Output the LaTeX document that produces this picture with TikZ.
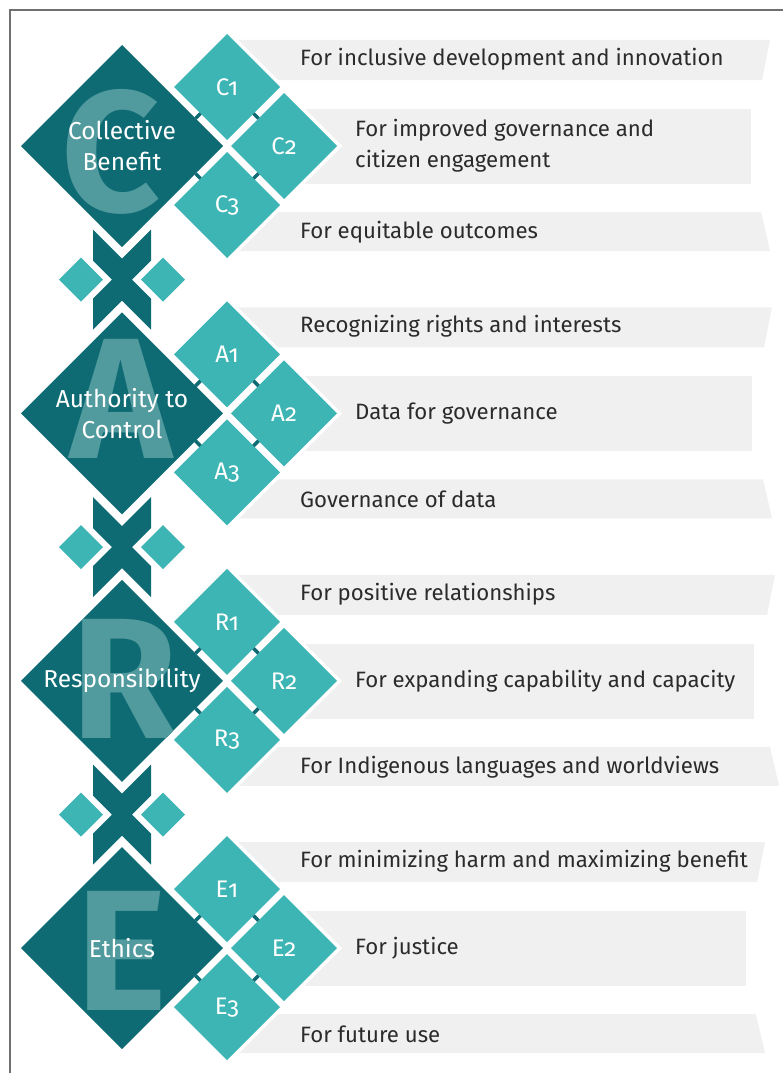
\documentclass[tikz,border=0pt]{standalone}
\usepackage{fontspec}
\setmainfont{Fira Sans}
\usetikzlibrary{shapes.geometric,calc}
\definecolor{darkteal}{HTML}{0E6B73}
\definecolor{lightteal}{HTML}{3DB5B4}
\definecolor{letterteal}{HTML}{519A9E}
\definecolor{barfill}{HTML}{F0F0F0}
\definecolor{txt}{HTML}{2B2B2B}
\definecolor{framegray}{HTML}{707070}

\tikzset{
  bigdia/.style={diamond, aspect=1, minimum width=202pt, minimum height=202pt, inner sep=0pt, outer sep=0pt, fill=darkteal},
  smalldia/.style={diamond, aspect=1, minimum width=106pt, minimum height=106pt, inner sep=0pt, outer sep=0pt, fill=lightteal, text=white, font=\fontsize{24}{24}\selectfont\addfontfeatures{Numbers=OldStyle}},
  halo/.style={diamond, aspect=1, minimum width=116pt, minimum height=116pt, inner sep=0pt, outer sep=0pt, fill=white},
  sidedia/.style={diamond, aspect=1, minimum width=44pt, minimum height=44pt, inner sep=0pt, outer sep=0pt, fill=lightteal},
  bigletter/.style={inner sep=0pt, outer sep=0pt, text=letterteal, font=\fontsize{172}{172}\selectfont\bfseries},
  titletext/.style={inner sep=0pt, text=white, align=center, font=\fontsize{24.5}{31}\selectfont},
  bartext/.style={inner sep=0pt, text=txt, align=left, font=\fontsize{22.2}{31}\selectfont},
  stitch/.style={draw=darkteal, line width=3.5pt},
}

% #1 letter/prefix, #2 centre y, #3 letter x, #4 letter baseline (rel), #5 title, #6-#8 texts
\newcommand\caresec[8]{%
  \pgfmathsetmacro\cy{#2}%
  \fill[barfill] (236,\cy-106) -- (\rA,\cy-106) -- (\rA-8,\cy-66) -- (236,\cy-66) -- cycle;
  \fill[barfill] (236,\cy-37) rectangle (\rB,\cy+38);
  \fill[barfill] (236,\cy+66) -- (\rC,\cy+66) -- (\rC+9,\cy+105) -- (236,\cy+105) -- cycle;
  \node[halo] (#1h1) at (227,\cy-59) {};
  \node[halo] (#1h2) at (284,\cy) {};
  \node[halo] (#1h3) at (227,\cy+59) {};
  \node[bigdia] (#1d) at (122,\cy) {};
  \begin{scope}
    \clip (#1d.north) -- (#1d.east) -- (#1d.south) -- (#1d.west) -- cycle;
    \node[bigletter, anchor=base] (#1l) at (#3,\cy+#4) {#1};
  \end{scope}
  \node[titletext] (#1n) at (#1d.center) {#5};
  \node[smalldia] (#1s1) at (227,\cy-59) {#1{}1};
  \node[smalldia] (#1s2) at (284,\cy) {#1{}2};
  \node[smalldia] (#1s3) at (227,\cy+59) {#1{}3};
  \draw[stitch] (#1s1.south west) -- ++(-5,5);
  \draw[stitch] (#1s1.south east) -- ++(5,5);
  \draw[stitch] (#1s3.north west) -- ++(-5,-5);
  \draw[stitch] (#1s3.north east) -- ++(5,-5);
  \node[bartext, anchor=west] (#1t1) at (300,\cy-87) {#6};
  \node[bartext, anchor=west] (#1t2) at (355,\cy) {#7};
  \node[bartext, anchor=west] (#1t3) at (300,\cy+86) {#8};
}

% #1 name prefix, #2 centre y
\newcommand\carejoin[2]{%
  \begin{scope}[shift={(122,#2)}]
    \fill[darkteal] (-29,-50) -- (0,-21) -- (29,-50) -- (29,-19) -- (10,0) -- (29,19)
      -- (29,50) -- (0,21) -- (-29,50) -- (-29,19) -- (-10,0) -- (-29,-19) -- cycle;
    \node[sidedia] (#1a) at (-41,0) {};
    \node[sidedia] (#1b) at (41,0) {};
  \end{scope}
}

\begin{document}
\begin{tikzpicture}[x=1pt,y=-1pt]
  \useasboundingbox (0,0) rectangle (783,1073);
  \fill[white] (0,0) rectangle (783,1073);
  \draw[framegray, line width=1.5pt] (10,1073) -- (10,10) -- (783,10);

  \def\rA{770}\def\rB{751}\def\rC{761}
  \caresec{C}{146}{111}{65}{Collective\\Benefit}{For inclusive development and innovation}{For improved governance and\\citizen engagement}{For equitable outcomes}
  \def\rA{772}\def\rB{752}\def\rC{763}
  \caresec{A}{413.4}{121}{44.6}{Authority to\\Control}{Recognizing rights and interests}{Data for governance}{Governance of data}
  \def\rA{775}\def\rB{754}\def\rC{770}
  \caresec{R}{680.8}{125}{57.2}{Responsibility}{For positive relationships}{For expanding capability and capacity}{For Indigenous languages and worldviews}
  \def\rA{765}\def\rB{746}\def\rC{756}
  \caresec{E}{948.2}{122}{61.8}{Ethics}{For minimizing harm and maximizing benefit}{For justice}{For future use}

  \carejoin{J1}{279.7}
  \carejoin{J2}{547.1}
  \carejoin{J3}{814.5}
\end{tikzpicture}
\end{document}
